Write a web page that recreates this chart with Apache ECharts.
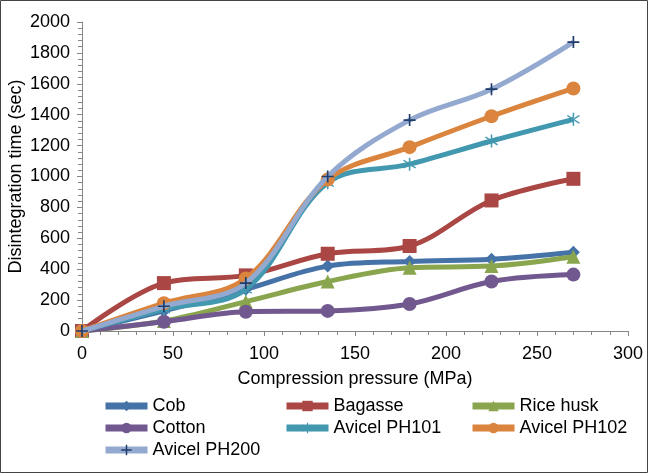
<!DOCTYPE html>
<html><head><meta charset="utf-8">
<script src="https://cdn.jsdelivr.net/npm/echarts@6/dist/echarts.min.js"></script>
<style>html,body{margin:0;padding:0;background:#fff}#c{width:648px;height:473px}</style>
</head><body><div id="c"></div>
<script>
const pressure = [0, 45, 90, 135, 180, 225, 270];
const cob      = [0, 130, 270, 420, 450, 465, 510];
const bagasse  = [0, 310, 360, 500, 550, 845, 985];
const riceHusk = [0, 65, 190, 320, 410, 420, 480];
const cotton   = [0, 60, 125, 130, 175, 320, 365];
const ph101    = [0, 140, 270, 960, 1080, 1230, 1370];
const ph102    = [0, 180, 340, 980, 1190, 1390, 1570];
const ph200    = [0, 160, 310, 1000, 1365, 1565, 1870];
const seriesNames = ['Cob','Bagasse','Rice husk','Cotton','Avicel PH101','Avicel PH102','Avicel PH200'];

const asterisk = 'path://M4.5,0L5.5,0L5.5,10L4.5,10Z M0.7,2.4L8.7,8.4L9.3,7.6L1.3,1.6Z M1.3,8.4L9.3,2.4L8.7,1.6L0.7,7.6Z';
const plus = 'path://M4.3,0L5.7,0L5.7,4.3L10,4.3L10,5.7L5.7,5.7L5.7,10L4.3,10L4.3,5.7L0,5.7L0,4.3L4.3,4.3Z';

const cfg = [
  {d: cob, c: '#4572A7', sym: 'diamond', size: 13},
  {d: bagasse, c: '#AA4643', sym: 'rect', size: 14},
  {d: riceHusk, c: '#89A54E', sym: 'triangle', size: 14},
  {d: cotton, c: '#71588F', sym: 'circle', size: 14},
  {d: ph101, c: '#4198AF', sym: asterisk, size: 13},
  {d: ph102, c: '#DB843D', sym: 'circle', size: 14},
  {d: ph200, c: '#93A9CF', sym: plus, size: 12, mc: '#1F3D6B'}
];
const font = 'Liberation Sans, Arial, sans-serif';
const series = cfg.map((s, i) => ({
  name: seriesNames[i],
  type: 'line',
  smooth: 0.35,
  data: pressure.map((x, k) => [x, s.d[k]]),
  symbol: s.sym,
  symbolSize: s.size,
  showAllSymbol: true,
  lineStyle: {color: s.c, width: 5},
  itemStyle: {color: s.mc || s.c, borderWidth: 0},
  z: 2 + i
}));

const legendPos = [
  [102, 397], [283, 397], [469, 397],
  [102, 419], [283, 419], [469, 419],
  [102, 441]
];
const legends = seriesNames.map((n, i) => ({
  data: [n], left: legendPos[i][0], top: legendPos[i][1],
  itemWidth: 42, itemHeight: 13, itemGap: 10, padding: 0,
  lineStyle: {width: 7},
  textStyle: {fontFamily: font, fontSize: 18, color: '#000'},
  selectedMode: false
}));

const chart = echarts.init(document.getElementById('c'), null, {renderer: 'canvas'});
chart.setOption({
  animation: false,
  backgroundColor: '#fff',
  grid: {left: 82, right: 20, top: 22, bottom: 142, containLabel: false, outerBoundsMode: 'none'},
  xAxis: {
    type: 'value', min: 0, max: 300, interval: 50,
    name: 'Compression pressure (MPa)', nameLocation: 'middle', nameGap: 39, nameMoveOverlap: false,
    nameTextStyle: {fontFamily: font, fontSize: 18, color: '#000'},
    axisLine: {show: true, lineStyle: {color: '#868686', width: 1}},
    axisTick: {show: true, length: 5, lineStyle: {color: '#868686'}},
    minorTick: {show: true, splitNumber: 5, length: 4, lineStyle: {color: '#868686'}},
    splitLine: {show: false},
    axisLabel: {fontFamily: font, fontSize: 18, color: '#000', margin: 14}
  },
  yAxis: {
    type: 'value', min: 0, max: 2000, interval: 200,
    name: 'Disintegration time (sec)', nameLocation: 'middle', nameGap: 57, nameMoveOverlap: false,
    nameTextStyle: {fontFamily: font, fontSize: 18, color: '#000'},
    axisLine: {show: true, lineStyle: {color: '#868686', width: 1}},
    axisTick: {show: true, length: 5, lineStyle: {color: '#868686'}},
    minorTick: {show: true, splitNumber: 5, length: 4, lineStyle: {color: '#868686'}},
    splitLine: {show: false},
    axisLabel: {fontFamily: font, fontSize: 18, color: '#000', margin: 12, formatter: v => String(v)}
  },
  legend: legends,
  series: series,
  graphic: [{type: 'rect', shape: {x: 0.5, y: 0.5, width: 647, height: 472},
    style: {fill: 'none', stroke: '#444', lineWidth: 1}, silent: true, z: 100}]
});
</script></body></html>
